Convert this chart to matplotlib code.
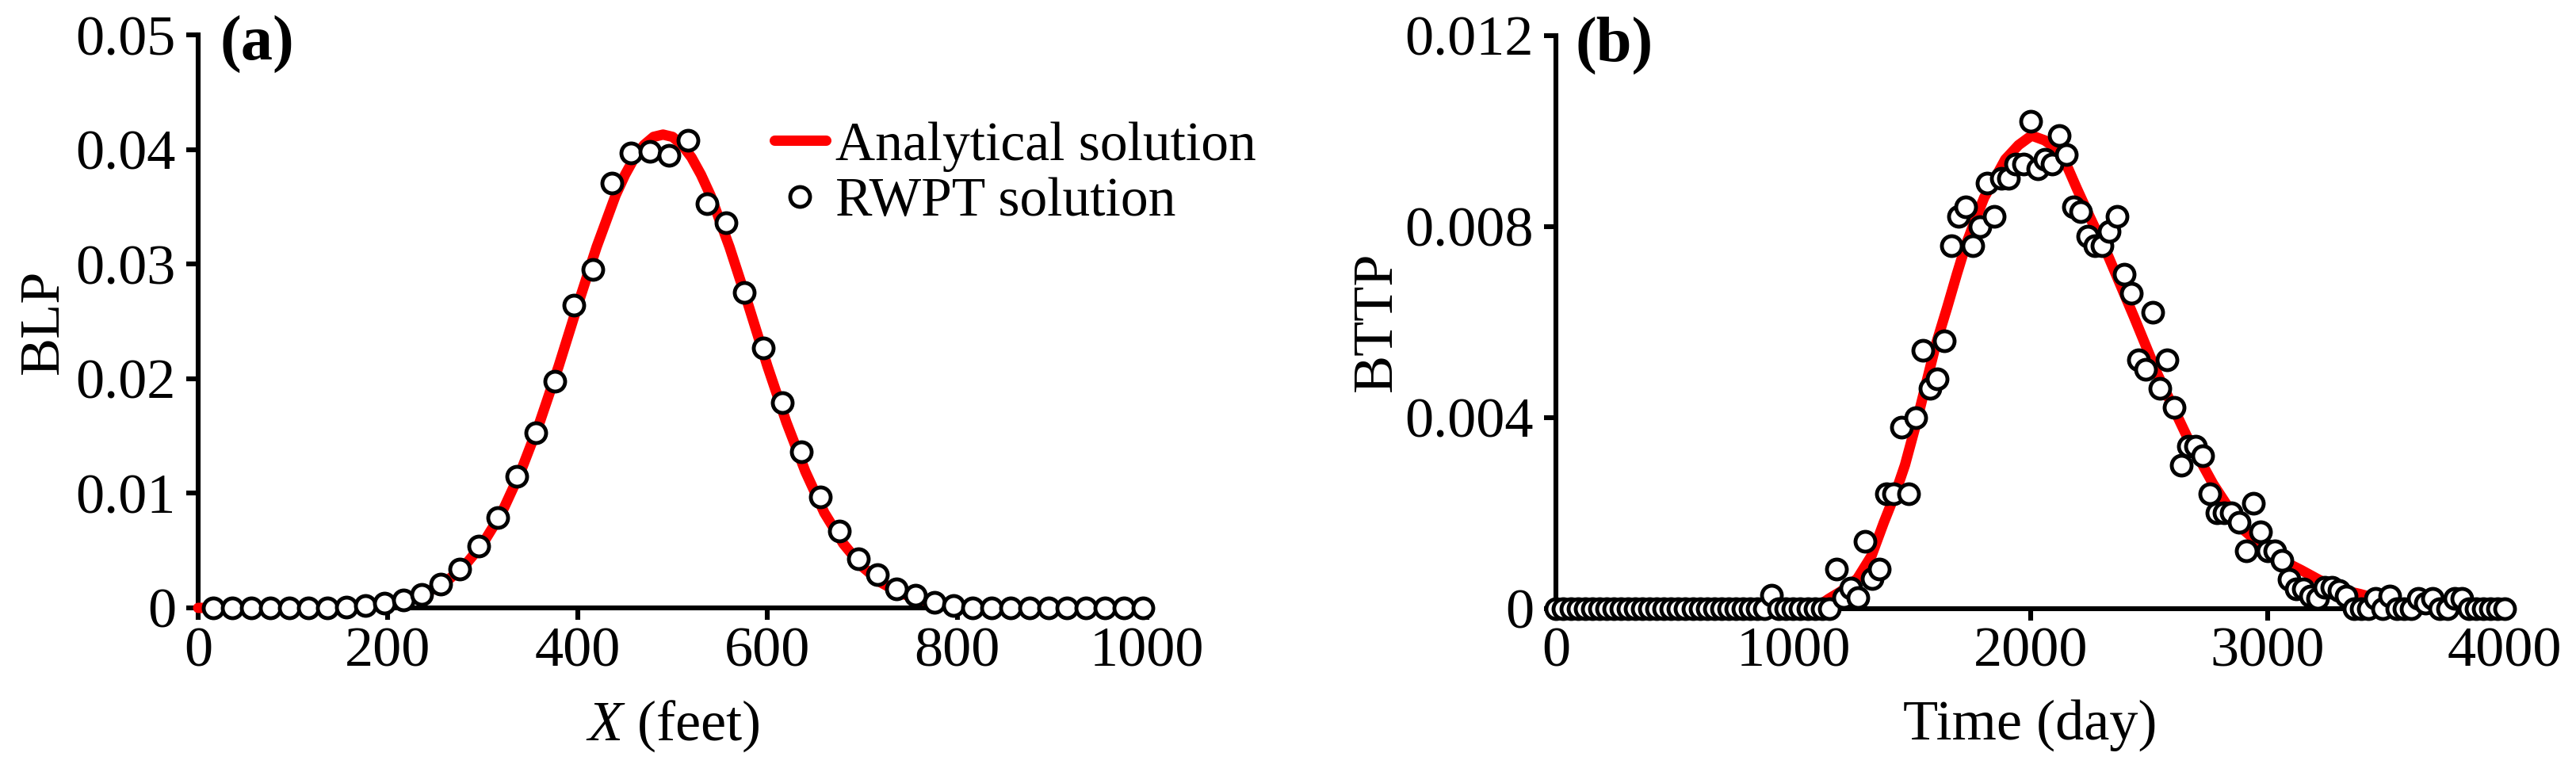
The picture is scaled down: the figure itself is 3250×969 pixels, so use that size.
import matplotlib
matplotlib.use('Agg')
import matplotlib.pyplot as plt

plt.rcParams['font.family'] = ['Liberation Serif', 'DejaVu Serif']
plt.rcParams['mathtext.fontset'] = 'custom'
plt.rcParams['mathtext.rm'] = 'Liberation Serif'
plt.rcParams['mathtext.it'] = 'Liberation Serif:italic'

# ---------------- data: panel (a) BLP ----------------
xa_rwpt = [16, 36, 56, 76, 96, 116, 136, 156, 176, 196,
           216, 236, 256, 276, 296, 316, 336, 356, 376, 396,
           416, 436, 456, 476, 496, 516, 536, 556, 576, 596,
           616, 636, 656, 676, 696, 716, 736, 756, 776, 796,
           816, 836, 856, 876, 896, 916, 936, 956, 976, 996]
ya_rwpt = [0, 0, 0, 0, 0, 0, 0, 0.0001, 0.0002, 0.0004,
           0.0007, 0.0012, 0.0021, 0.0034, 0.0054, 0.0079, 0.0115, 0.0153, 0.0198, 0.0264,
           0.0295, 0.0371, 0.0397, 0.0398, 0.0395, 0.0408, 0.0353, 0.0336, 0.0275, 0.0227,
           0.0179, 0.0136, 0.0097, 0.0067, 0.0043, 0.0029, 0.00166, 0.0011, 0.00046, 0.00019,
           0, 0, 0, 0, 0, 0, 0, 0, 0, 0]

xa_curve = [0, 100, 160, 200, 220, 240, 260, 280, 300, 320, 340, 360, 380, 400,
            420, 440, 450, 460, 470, 480, 490, 500, 510, 520, 530, 540, 560, 580,
            600, 620, 640, 660, 680, 700, 720, 740, 760, 780, 800, 820, 840, 900, 1000]
ya_curve = [0, 0.00001, 0.0001, 0.00039, 0.00073, 0.0013, 0.0022, 0.0036, 0.0056, 0.0083,
            0.0119, 0.0162, 0.0211, 0.0264, 0.0315, 0.0360, 0.0378, 0.0393, 0.0404, 0.0411,
            0.0413, 0.0411, 0.0404, 0.0393, 0.0378, 0.0360, 0.0315, 0.0264, 0.0211, 0.0162,
            0.0119, 0.0083, 0.0056, 0.0036, 0.0022, 0.0013, 0.00073, 0.00039, 0.0002, 0.0001,
            0.00004, 0, 0]

# ---------------- data: panel (b) BTTP ----------------
tb_rwpt = [0, 30, 61, 91, 121, 152, 182, 212, 242, 273,
           303, 333, 364, 394, 424, 455, 485, 515, 545, 576,
           606, 636, 667, 697, 727, 758, 788, 818, 848, 879,
           909, 939, 970, 1000, 1030, 1061, 1091, 1121, 1152, 1182,
           1212, 1242, 1273, 1303, 1333, 1364, 1394, 1424, 1455, 1485,
           1515, 1545, 1576, 1606, 1636, 1667, 1697, 1727, 1758, 1788,
           1818, 1848, 1879, 1909, 1939, 1970, 2000, 2030, 2061, 2091,
           2121, 2152, 2182, 2212, 2242, 2273, 2303, 2333, 2364, 2394,
           2424, 2455, 2485, 2515, 2545, 2576, 2606, 2636, 2667, 2697,
           2727, 2758, 2788, 2818, 2848, 2879, 2909, 2939, 2970, 3000,
           3030, 3061, 3091, 3121, 3152, 3182, 3212, 3242, 3273, 3303,
           3333, 3364, 3394, 3424, 3455, 3485, 3515, 3545, 3576, 3606,
           3636, 3667, 3697, 3727, 3758, 3788, 3818, 3848, 3879, 3909,
           3939, 3970, 4000]
yb_rwpt = [0, 0, 0, 0, 0, 0, 0, 0, 0, 0,
           0, 0, 0, 0, 0, 0, 0, 0, 0, 0,
           0, 0, 0, 0, 0, 0, 0, 0, 0, 0,
           0.00027, 0, 0, 0, 0, 0, 0, 0, 0, 0.00082,
           0.00023, 0.00042, 0.00023, 0.0014, 0.00062, 0.00082, 0.0024, 0.0024, 0.0038, 0.0024,
           0.0040, 0.0054, 0.0046, 0.0048, 0.0056, 0.0076, 0.0082, 0.0084, 0.0076, 0.0080,
           0.0089, 0.0082, 0.0090, 0.0090, 0.0093, 0.0093, 0.0102, 0.0092, 0.0094, 0.0093,
           0.0099, 0.0095, 0.0084, 0.0083, 0.0078, 0.0076, 0.0076, 0.0079, 0.0082, 0.0070,
           0.0066, 0.0052, 0.0050, 0.0062, 0.0046, 0.0052, 0.0042, 0.0030, 0.0034, 0.0034,
           0.0032, 0.0024, 0.0020, 0.0020, 0.0020, 0.0018, 0.0012, 0.0022, 0.0016, 0.0012,
           0.0012, 0.0010, 0.0006, 0.0004, 0.0004, 0.00026, 0.0002, 0.00044, 0.00044, 0.00038,
           0.00026, 0, 0, 0, 0.0002, 0, 0.00026, 0, 0, 0,
           0.0002, 0.0001, 0.0002, 0, 0, 0.0002, 0.0002, 0, 0, 0,
           0, 0, 0]

tb_curve = [0, 1100, 1150, 1200, 1270, 1330, 1382, 1430, 1471, 1520, 1560, 1600, 1649,
            1690, 1727, 1765, 1805, 1850, 1894, 1950, 2005, 2060, 2117, 2160, 2195, 2250,
            2326, 2437, 2536, 2660, 2771, 2895, 3030, 3142, 3216, 3300, 3389, 3500, 3600,
            3800, 4000]
yb_curve = [0, 0.00003, 0.0002, 0.00035, 0.00062, 0.0011, 0.0018, 0.0024, 0.0030, 0.0039,
            0.0047, 0.0055, 0.0063, 0.0070, 0.0076, 0.0081, 0.0086, 0.0090, 0.0094, 0.0097,
            0.0099, 0.0098, 0.0096, 0.0092, 0.0088, 0.0082, 0.0074, 0.0061, 0.0049, 0.0036,
            0.0026, 0.00166, 0.00108, 0.0008, 0.0006, 0.0004, 0.0003, 0.00015, 0.00008,
            0.00002, 0]

xa_ticks = [0, 200, 400, 600, 800, 1000]
ya_ticks = [0, 0.01, 0.02, 0.03, 0.04, 0.05]
ya_ticklabels = ['0', '0.01', '0.02', '0.03', '0.04', '0.05']
xb_ticks = [0, 1000, 2000, 3000, 4000]
yb_ticks = [0, 0.004, 0.008, 0.012]
yb_ticklabels = ['0', '0.004', '0.008', '0.012']

# ---------------- figure ----------------
W, H, DPI = 3250, 969, 200
fig = plt.figure(figsize=(W / DPI, H / DPI), dpi=DPI)
axa = fig.add_axes([250 / W, (H - 767) / H, 1197 / W, 723 / H])
axb = fig.add_axes([1963.3 / W, (H - 767.5) / H, 1196.7 / W, 723 / H])

FS = 26
for ax in (axa, axb):
    ax.spines['top'].set_visible(False)
    ax.spines['right'].set_visible(False)
    for s in ('left', 'bottom'):
        ax.spines[s].set_linewidth(2.2)
    ax.tick_params(direction='out', length=5.4, width=2.2, labelsize=FS)
    ax.tick_params(axis='y', pad=4.7)
    ax.tick_params(axis='x', pad=3)

def draw(ax, xc, yc, xr, yr):
    ax.plot(xc, yc, color='#ff0000', lw=4.7, solid_capstyle='round',
            zorder=3, clip_on=False, label='Analytical solution')
    ax.plot(xr, yr, 'o', ms=9.0, mfc='white', mec='black', mew=1.75,
            zorder=4, clip_on=False, label='RWPT solution')

draw(axa, xa_curve, ya_curve, xa_rwpt, ya_rwpt)
draw(axb, tb_curve, yb_curve, tb_rwpt, yb_rwpt)

axa.set_xlim(0, 1000)
axa.set_ylim(0, 0.05)
axa.set_xticks(xa_ticks)
axa.set_yticks(ya_ticks)
axa.set_yticklabels(ya_ticklabels)
axb.set_xlim(0, 4000)
axb.set_ylim(0, 0.012)
axb.set_xticks(xb_ticks)
axb.set_yticks(yb_ticks)
axb.set_yticklabels(yb_ticklabels)

axa.set_xlabel(r'$X$ (feet)', fontsize=FS)
axa.set_ylabel('BLP', fontsize=FS)
axb.set_xlabel('Time (day)', fontsize=FS)
axb.set_ylabel('BTTP', fontsize=FS)
axa.xaxis.set_label_coords(0.5, -0.158)
axb.xaxis.set_label_coords(0.5, -0.158)
axa.yaxis.set_label_coords(-0.135, 0.5)
axb.yaxis.set_label_coords(-0.1615, 0.5)

axa.text(0.0226, 1.033, '(a)', transform=axa.transAxes, fontsize=29,
         fontweight='bold', va='top', ha='left')
axb.text(0.02, 1.033, '(b)', transform=axb.transAxes, fontsize=29,
         fontweight='bold', va='top', ha='left')

axa.legend(loc='upper left', bbox_to_anchor=(976.5 / W, 1 - 153 / H),
           bbox_transform=fig.transFigure, frameon=False, fontsize=25,
           handlelength=0.94, handletextpad=0.17, labelspacing=0.1,
           borderpad=0, borderaxespad=0, numpoints=1)

fig.savefig('out.png', dpi=DPI)
